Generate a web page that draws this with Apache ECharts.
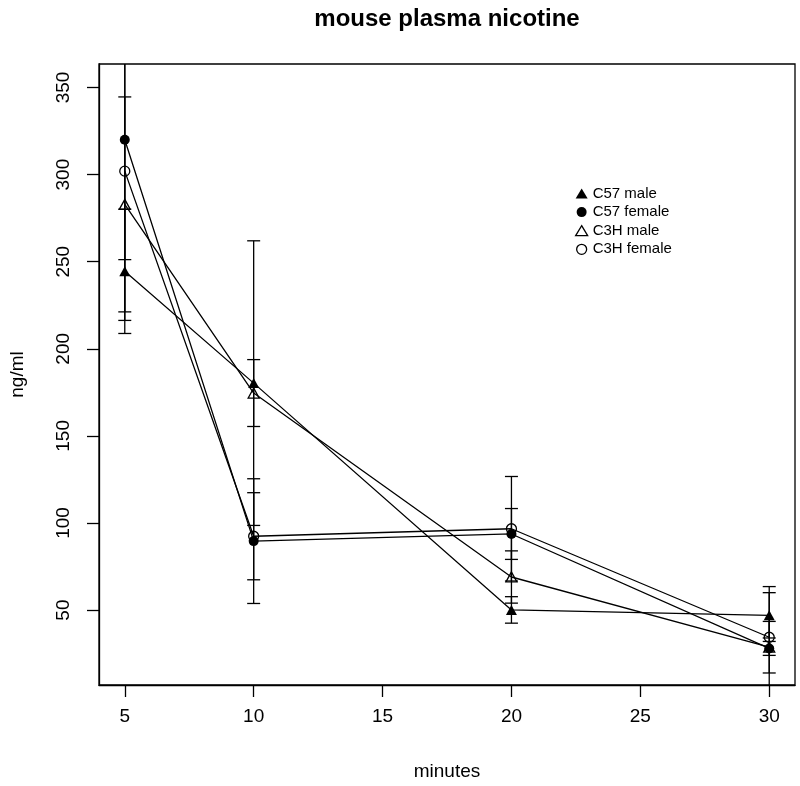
<!DOCTYPE html>
<html><head><meta charset="utf-8">
<script src="https://cdn.jsdelivr.net/npm/echarts@6/dist/echarts.min.js"></script>
<style>html,body{margin:0;padding:0;background:#fff}#c{width:800px;height:786px}</style>
</head><body><div id="c"></div>
<script>
// ---- data ----
const minutes = [5, 10, 20, 30];
const xTicks = [5, 10, 15, 20, 25, 30];
const yTicks = [50, 100, 150, 200, 250, 300, 350];
const seriesNames = ['C57 male', 'C57 female', 'C3H male', 'C3H female'];
const c57MaleMean = [244.5, 180.3, 50.1, 47.0];
const c57MaleErr = [35.7, 81.7, 7.6, 13.0];
const c57FemaleMean = [320.0, 89.6, 93.7, 28.0];
const c57FemaleErr = [68.8, 35.8, 14.6, 4.0];
const c3hMaleMean = [282.9, 174.6, 69.0, 28.7];
const c3hMaleErr = [61.7, 19.2, 15.0, 14.8];
const c3hFemaleMean = [302.0, 92.4, 96.7, 34.4];
const c3hFemaleErr = [85.7, 25.0, 30.0, 29.1];

const FONT = '"Liberation Sans", Arial, Helvetica, sans-serif';
const LW = 1.3;
const open = { color: 'rgba(0,0,0,0)', borderColor: '#000', borderWidth: LW };
const filled = { color: '#000', borderWidth: 0 };

const groups = [
  { name: seriesNames[0], mean: c57MaleMean, err: c57MaleErr, symbol: 'triangle', size: [11, 10], style: filled },
  { name: seriesNames[1], mean: c57FemaleMean, err: c57FemaleErr, symbol: 'circle', size: 10, style: filled },
  { name: seriesNames[2], mean: c3hMaleMean, err: c3hMaleErr, symbol: 'triangle', size: [11, 10], style: open },
  { name: seriesNames[3], mean: c3hFemaleMean, err: c3hFemaleErr, symbol: 'circle', size: 10, style: open }
];

function errSeries(g) {
  return {
    type: 'custom', clip: true, silent: true, z: 1,
    data: minutes.map((m, i) => [m, g.mean[i] - g.err[i], g.mean[i] + g.err[i]]),
    encode: { x: 0, y: [1, 2] },
    renderItem: function (params, api) {
      const x = api.value(0);
      const lo = api.coord([x, api.value(1)]);
      const hi = api.coord([x, api.value(2)]);
      const w = 6.5;
      const st = { stroke: '#000', lineWidth: LW };
      return { type: 'group', children: [
        { type: 'line', shape: { x1: lo[0], y1: lo[1], x2: hi[0], y2: hi[1] }, style: st },
        { type: 'line', shape: { x1: lo[0] - w, y1: lo[1], x2: lo[0] + w, y2: lo[1] }, style: st },
        { type: 'line', shape: { x1: hi[0] - w, y1: hi[1], x2: hi[0] + w, y2: hi[1] }, style: st }
      ]};
    }
  };
}

const series = [];
groups.forEach(g => {
  series.push({
    name: g.name, type: 'line', z: 3,
    data: minutes.map((m, i) => [m, g.mean[i]]),
    symbol: g.symbol, symbolSize: g.size, showAllSymbol: true,
    lineStyle: { color: '#000', width: LW },
    itemStyle: g.style,
    emphasis: { disabled: true }
  });
});
groups.forEach(g => series.push(errSeries(g)));

const chart = echarts.init(document.getElementById('c'), null, { renderer: 'canvas' });
chart.setOption({
  animation: false,
  backgroundColor: '#fff',
  textStyle: { fontFamily: FONT },
  title: {
    text: 'mouse plasma nicotine', left: 442, top: 2, textAlign: 'center',
    textStyle: { fontFamily: FONT, fontSize: 24, fontWeight: 'bold', color: '#000' }
  },
  legend: {
    orient: 'vertical', left: 570, top: 181,
    itemWidth: 12, itemHeight: 10, itemGap: 3.6,
    textStyle: { fontFamily: FONT, fontSize: 15, color: '#000' },
    data: groups.map(g => ({
      name: g.name, icon: g.symbol,
      itemStyle: g.style
    }))
  },
  grid: { left: 98, right: 5, top: 64, bottom: 98, show: true, borderColor: '#000', borderWidth: LW, backgroundColor: 'transparent' },
  xAxis: {
    type: 'value', min: 4, max: 31,
    name: 'minutes', nameLocation: 'middle', nameGap: 77,
    nameTextStyle: { fontFamily: FONT, fontSize: 19, color: '#000' },
    axisLine: { show: true, onZero: false, lineStyle: { color: '#000', width: LW } },
    axisTick: { show: true, inside: false, length: 12, customValues: xTicks, lineStyle: { color: '#000', width: LW } },
    axisLabel: { customValues: xTicks, fontFamily: FONT, fontSize: 19, color: '#000', margin: 22 },
    splitLine: { show: false }
  },
  yAxis: {
    type: 'value', min: 7, max: 363.5,
    name: 'ng/ml', nameLocation: 'middle', nameGap: 72, nameRotate: 90,
    nameTextStyle: { fontFamily: FONT, fontSize: 19, color: '#000' },
    axisLine: { show: true, onZero: false, lineStyle: { color: '#000', width: LW } },
    axisTick: { show: true, inside: false, length: 12, customValues: yTicks, lineStyle: { color: '#000', width: LW } },
    axisLabel: { customValues: yTicks, rotate: 90, fontFamily: FONT, fontSize: 19, color: '#000', margin: 26 },
    splitLine: { show: false }
  },
  series: series
});
</script>
</body></html>
